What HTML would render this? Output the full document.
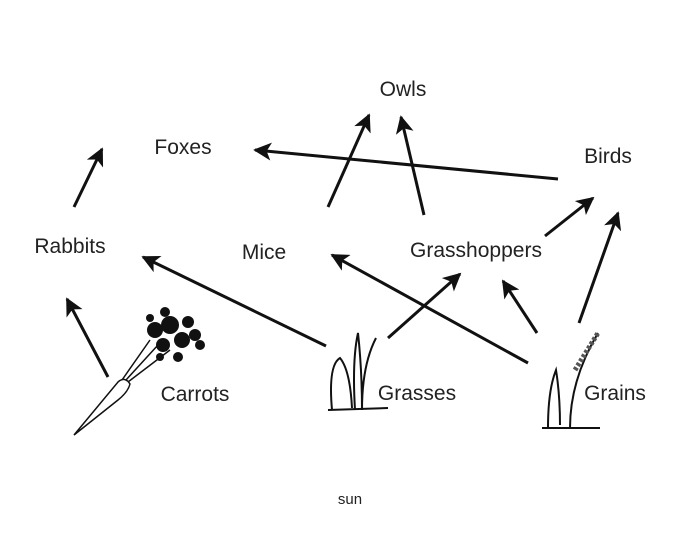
<!DOCTYPE html>
<html><head><style>
html,body{margin:0;padding:0;background:#fff;}
svg{display:block;}
text{font-family:"Liberation Sans",sans-serif;fill:#222;}
</style></head><body>
<svg width="698" height="546" viewBox="0 0 698 546">
<defs>
<marker id="a" viewBox="0 0 10 10" refX="9" refY="5" markerWidth="6" markerHeight="6" orient="auto" markerUnits="strokeWidth">
<path d="M0,0 L10,5 L0,10 L2.5,5 z" fill="#111"/>
</marker>
</defs>
<g stroke="#111" stroke-width="3" fill="none" marker-end="url(#a)">
<line x1="108" y1="377" x2="67" y2="299"/>
<line x1="74" y1="207" x2="102" y2="149"/>
<line x1="326" y1="346" x2="143" y2="257"/>
<line x1="558" y1="179" x2="255" y2="150"/>
<line x1="328" y1="207" x2="369" y2="115"/>
<line x1="424" y1="215" x2="401" y2="117"/>
<line x1="388" y1="338" x2="460" y2="274"/>
<line x1="528" y1="363" x2="332" y2="255"/>
<line x1="537" y1="333" x2="503" y2="281"/>
<line x1="545" y1="236" x2="593" y2="198"/>
<line x1="579" y1="323" x2="618" y2="213"/>
</g>
<g font-size="21">
<text x="403" y="96" text-anchor="middle">Owls</text>
<text x="183" y="154" text-anchor="middle">Foxes</text>
<text x="608" y="163" text-anchor="middle">Birds</text>
<text x="70" y="253" text-anchor="middle">Rabbits</text>
<text x="264" y="259" text-anchor="middle">Mice</text>
<text x="476" y="257" text-anchor="middle">Grasshoppers</text>
<text x="195" y="401" text-anchor="middle">Carrots</text>
<text x="417" y="400" text-anchor="middle">Grasses</text>
<text x="615" y="400" text-anchor="middle">Grains</text>
</g>
<text x="350" y="504" font-size="15" text-anchor="middle">sun</text>
<g stroke="#111" stroke-width="1.5" fill="none">
<path d="M74,435 L118,382 Q125,376 130,384 Q128,392 118,400 Z" fill="#fff"/>
<path d="M122,380 L150,340 M126,380 L158,345 M128,382 L170,350"/>
</g>
<g fill="#111">
<circle cx="155" cy="330" r="8"/><circle cx="170" cy="325" r="9"/><circle cx="182" cy="340" r="8"/><circle cx="163" cy="345" r="7"/><circle cx="195" cy="335" r="6"/><circle cx="165" cy="312" r="5"/><circle cx="178" cy="357" r="5"/>
<circle cx="188" cy="322" r="6"/><circle cx="200" cy="345" r="5"/><circle cx="160" cy="357" r="4"/><circle cx="150" cy="318" r="4"/>
</g>
<g stroke="#111" stroke-width="2" fill="none">
<path d="M332,410 Q328,365 340,358 Q350,370 352,408"/>
<path d="M355,410 Q352,360 358,333 Q362,370 362,410"/>
<path d="M362,410 Q362,365 376,338"/>
<path d="M328,410 L388,408"/>
<path d="M548,428 Q548,390 556,370 Q560,395 560,425"/>
<path d="M570,428 Q570,380 598,333"/>
<path d="M542,428 L600,428"/>
</g>
<path d="M575,370 L598,333" stroke="#555" stroke-width="5" stroke-dasharray="3 2"/>
</svg>
</body></html>
